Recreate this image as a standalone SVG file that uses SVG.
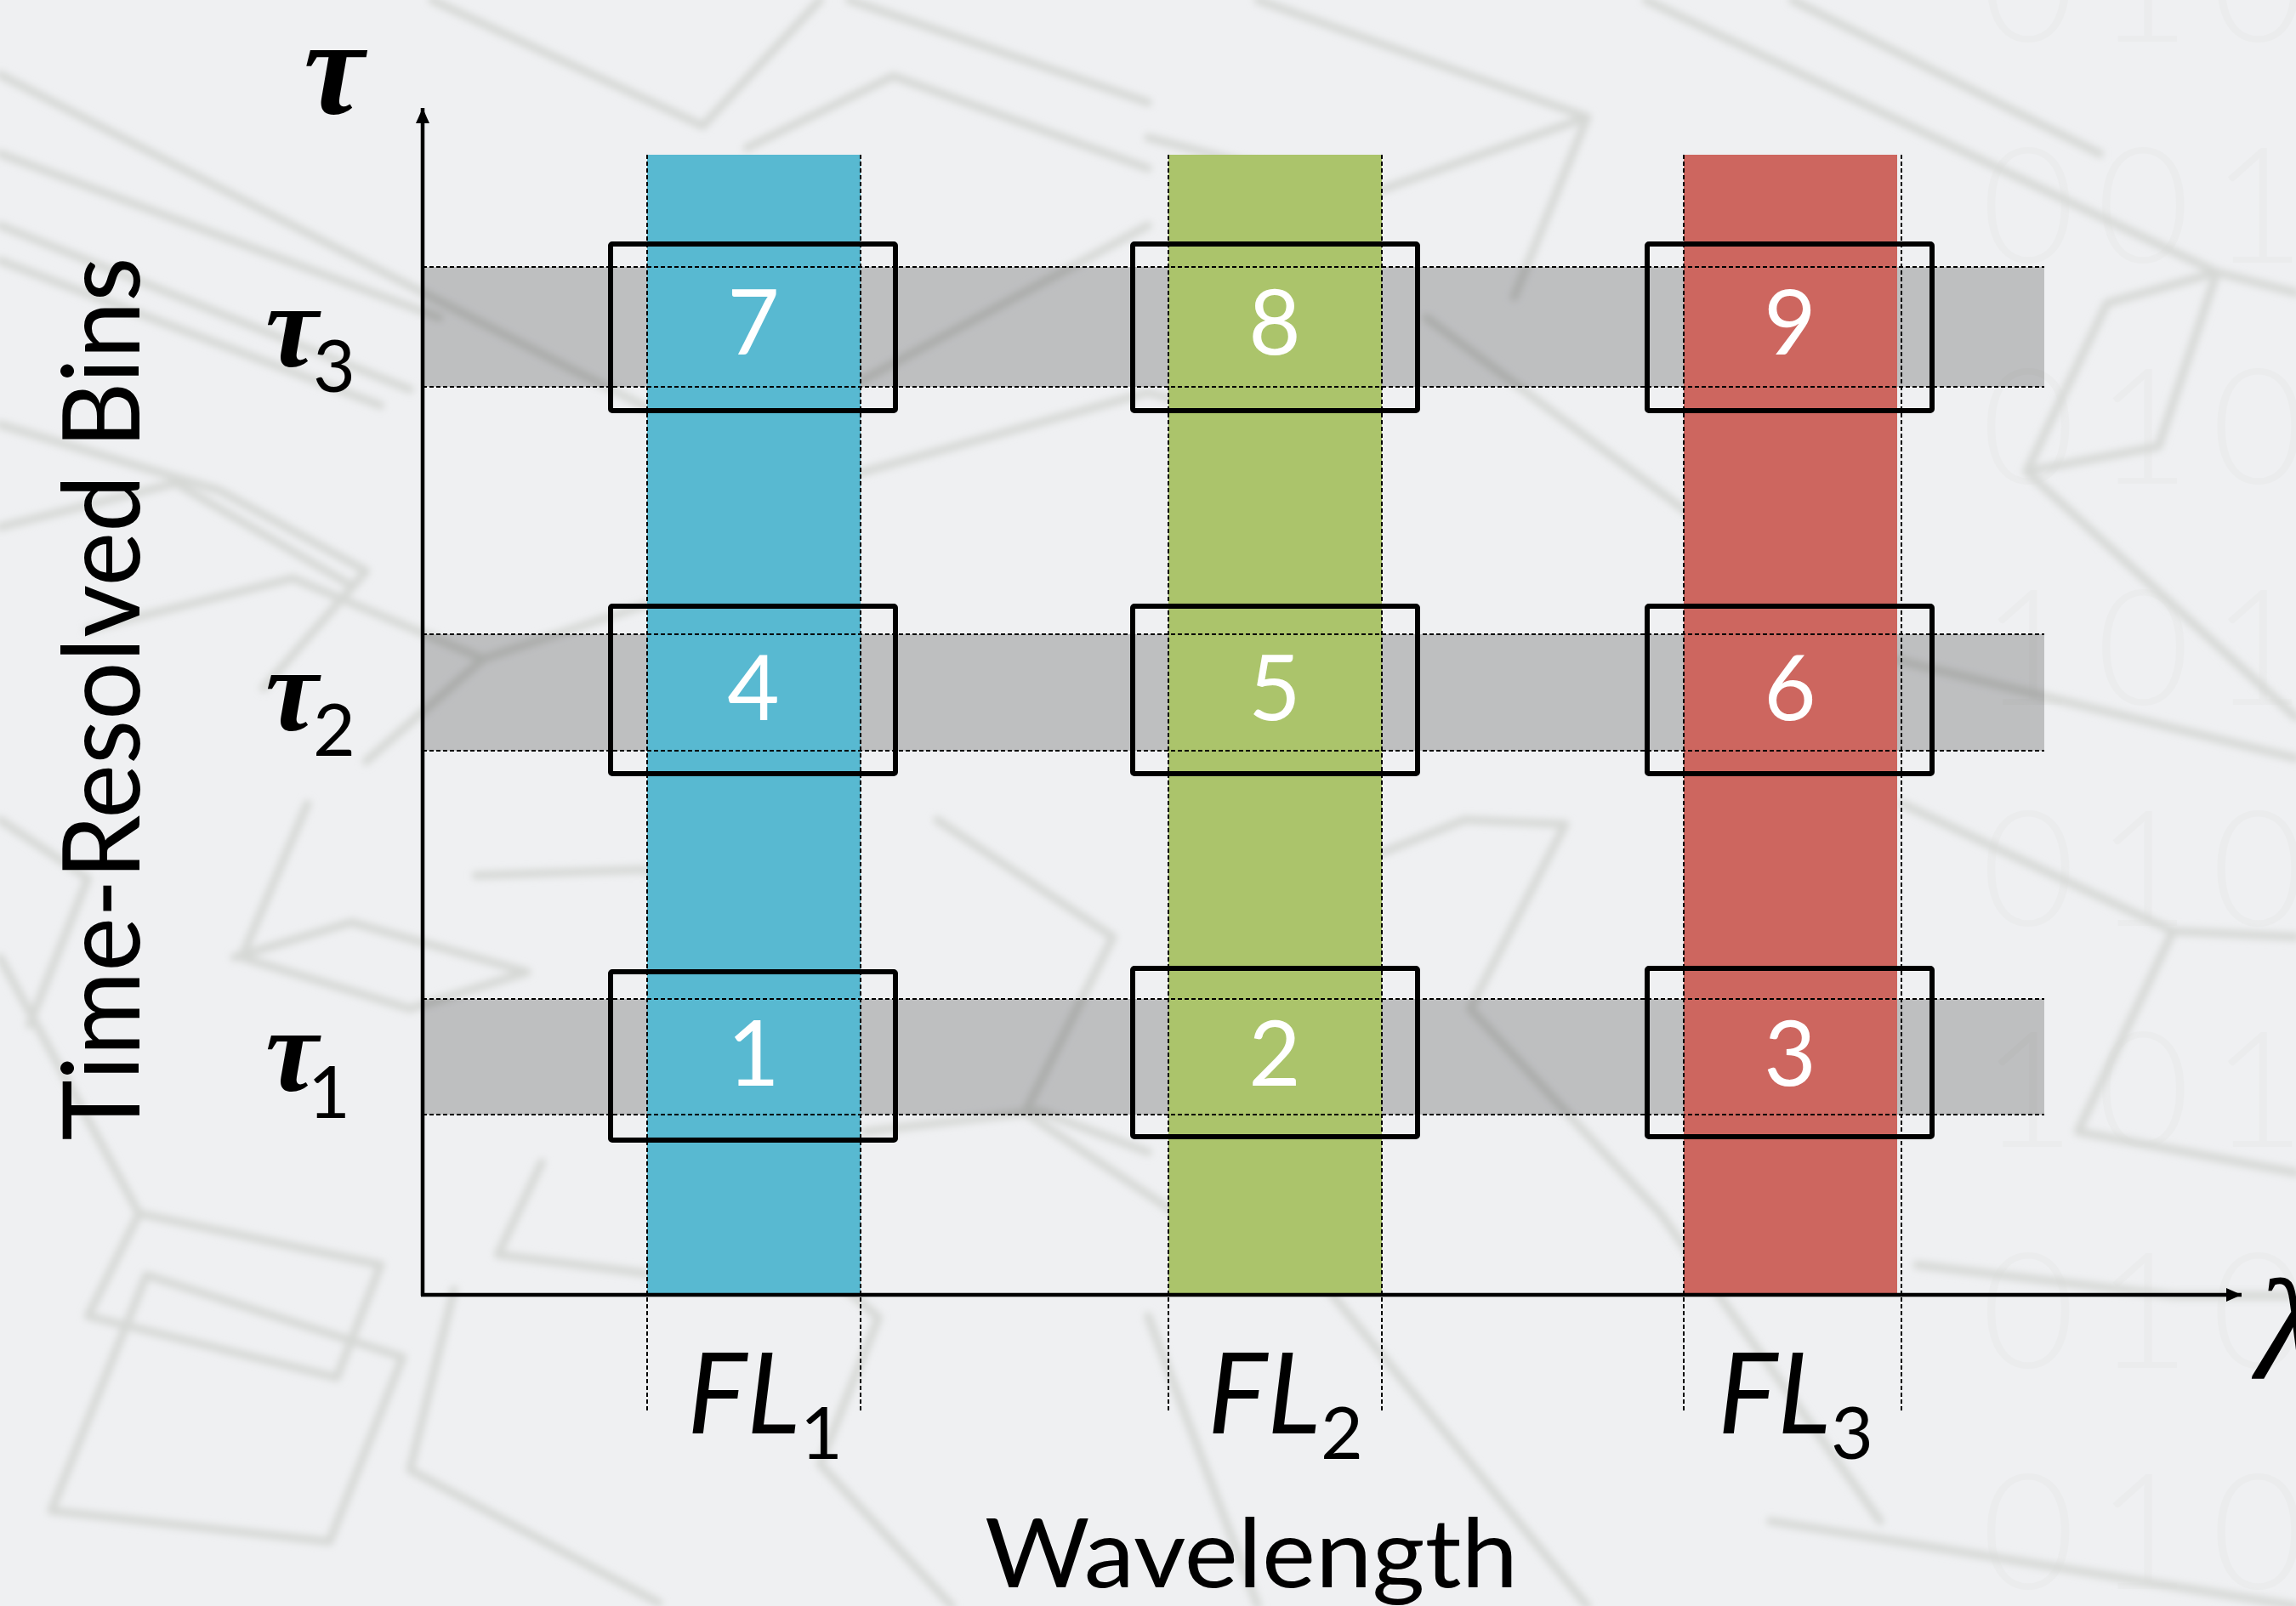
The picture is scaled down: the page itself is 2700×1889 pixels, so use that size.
<svg xmlns="http://www.w3.org/2000/svg" width="2700" height="1889" viewBox="0 0 2700 1889">
  <defs>
    <style>
      .sans { font-family: Lato, "Open Sans", "Liberation Sans", sans-serif; }
      .serif { font-family: "Liberation Serif", "DejaVu Serif", serif; }
      .num { font-family: Lato, "Open Sans", "Liberation Sans", sans-serif; font-size: 106px; fill: #ffffff; text-anchor: middle; }
      .cell { fill: none; stroke: #000000; stroke-width: 6; }
      .dash { stroke: #000000; stroke-width: 2; stroke-dasharray: 5 3; fill: none; }
      .band { fill: #000000; fill-opacity: 0.205; }
      .axis { stroke: #000000; stroke-width: 4.5; fill: none; }
      .tau { font-family: "Liberation Serif", "DejaVu Serif", serif; font-weight: bold; font-style: italic; }
      .sub { font-family: Lato, "Open Sans", "Liberation Sans", sans-serif; font-size: 86px; }
      .fl { font-family: Lato, "Open Sans", "Liberation Sans", sans-serif; font-style: italic; font-size: 132px; }
      .deco { fill: none; stroke: #d6d8d5; stroke-width: 5.5; stroke-linejoin: round; stroke-linecap: round; }
      .bits { font-family: Lato, "Open Sans", "Liberation Sans", sans-serif; font-weight: 300; font-size: 190px; fill: #ebeced; letter-spacing: 25px; }
    </style>
    <filter id="soft" x="-5%" y="-5%" width="110%" height="110%">
      <feGaussianBlur stdDeviation="2.6"/>
    </filter>
    <marker id="head" markerUnits="userSpaceOnUse" markerWidth="20" markerHeight="18" refX="18" refY="9" orient="auto">
      <path d="M0,1 L18,9 L0,17 Z" fill="#000000"/>
    </marker>
  </defs>

  <!-- page background -->
  <rect x="0" y="0" width="2700" height="1889" fill="#eff0f2"/>

  <!-- faint decorative backdrop: binary digits and wire-frame blocks -->
  <g id="backdrop">
    <g class="bits">
      <text x="2330" y="49">010</text>
      <text x="2330" y="309">001</text>
      <text x="2330" y="569">010</text>
      <text x="2330" y="829">101</text>
      <text x="2330" y="1089">010</text>
      <text x="2330" y="1349">101</text>
      <text x="2330" y="1609">010</text>
      <text x="2330" y="1869">010</text>
    </g>
    <g transform="scale(1.72194)" filter="url(#soft)">
      <path class="deco" d="M0,51 L390,252 L500,308"/>
      <path class="deco" d="M0,105 L300,217"/>
      <path class="deco" d="M0,154 L280,266"/>
      <path class="deco" d="M0,178 L260,277"/>
      <path class="deco" d="M295,0 L480,86 L560,0"/>
      <path class="deco" d="M510,101 L610,52 L784,115"/>
      <path class="deco" d="M580,0 L784,70"/>
      <path class="deco" d="M859,0 L1084,80 L1034,203"/>
      <path class="deco" d="M784,94 L934,133 L1084,80"/>
      <path class="deco" d="M974,217 L1284,448 L1568,518"/>
      <path class="deco" d="M1124,0 L1514,186 L1568,200"/>
      <path class="deco" d="M1224,0 L1434,105"/>
      <path class="deco" d="M1439,207 L1514,186 L1474,305 L1384,322 Z"/>
      <path class="deco" d="M1384,322 L1568,490"/>
      <path class="deco" d="M500,308 L784,154"/>
      <path class="deco" d="M580,325 L784,268 L900,300"/>
      <path class="deco" d="M0,290 L150,335 L250,390 L180,470"/>
      <path class="deco" d="M0,360 L120,330 L240,400"/>
      <path class="deco" d="M60,430 L200,395 L330,450 L250,520"/>
      <path class="deco" d="M330,450 L450,410 L560,460"/>
      <path class="deco" d="M210,549 L165,654 L280,689 L360,664 L240,630 L160,654"/>
      <path class="deco" d="M325,598 L440,594 L520,640"/>
      <path class="deco" d="M0,654 L95,829 L260,864"/>
      <path class="deco" d="M95,829 L60,899 L230,941 L260,864"/>
      <path class="deco" d="M35,1032 L100,871 L275,927 L225,1053 Z"/>
      <path class="deco" d="M310,881 L280,1004 L450,1095"/>
      <path class="deco" d="M370,794 L340,857 L450,871 L520,830"/>
      <path class="deco" d="M590,773 L710,759 L784,787"/>
      <path class="deco" d="M520,830 L600,900 L560,1000 L650,1097"/>
      <path class="deco" d="M0,560 L60,600 L20,700"/>
      <path class="deco" d="M1069,563 L1004,689 L1134,829 L1284,1039"/>
      <path class="deco" d="M1299,549 L1484,636 L1568,640"/>
      <path class="deco" d="M1484,636 L1419,773 L1568,801"/>
      <path class="deco" d="M1309,864 L1484,885 L1568,885"/>
      <path class="deco" d="M1209,1039 L1568,1097"/>
      <path class="deco" d="M784,899 L859,1097"/>
      <path class="deco" d="M899,871 L1084,1097"/>
      <path class="deco" d="M900,600 L1000,560 L1069,563"/>
      <path class="deco" d="M640,560 L760,640 L700,760 L820,840"/>
    </g>
  </g>

  <!-- time bins -->
  <g id="time-bins">
    <rect class="band" x="497" y="314" width="1907" height="141"/>
    <rect class="band" x="497" y="746" width="1907" height="137"/>
    <rect class="band" x="497" y="1175" width="1907" height="136"/>
  </g>

  <!-- filter channels -->
  <g id="channel-FL1"><rect x="761" y="182" width="251" height="1342" fill="#58b9d1"/></g>
  <g id="channel-FL2"><rect x="1374" y="182" width="251" height="1342" fill="#abc46b"/></g>
  <g id="channel-FL3"><rect x="1980" y="182" width="251" height="1342" fill="#cd665f"/></g>

  <!-- guide lines -->
  <g id="guides">
    <path class="dash" d="M497,314 H2404 M497,455 H2404 M497,746 H2404 M497,883 H2404 M497,1175 H2404 M497,1311 H2404"/>
    <path class="dash" d="M761,182 V1660 M1012,182 V1660 M1374,182 V1660 M1625,182 V1660 M1980,182 V1660 M2236,182 V1660"/>
  </g>

  <!-- axes -->
  <g id="connectors">
    <path class="axis" d="M497,1524 V127" marker-end="url(#head)"/>
    <path class="axis" d="M495,1523 H2636" marker-end="url(#head)"/>
  </g>

  <!-- cells -->
  <g id="cell-7"><rect class="cell" x="718" y="287" width="335" height="196" rx="2"/><text class="num" x="886" y="417">7</text></g>
  <g id="cell-8"><rect class="cell" x="1332" y="287" width="335" height="196" rx="2"/><text class="num" x="1499" y="417">8</text></g>
  <g id="cell-9"><rect class="cell" x="1937" y="287" width="335" height="196" rx="2"/><text class="num" x="2105" y="417">9</text></g>
  <g id="cell-4"><rect class="cell" x="718" y="713" width="335" height="197" rx="2"/><text class="num" x="886" y="847">4</text></g>
  <g id="cell-5"><rect class="cell" x="1332" y="713" width="335" height="197" rx="2"/><text class="num" x="1499" y="847">5</text></g>
  <g id="cell-6"><rect class="cell" x="1937" y="713" width="335" height="197" rx="2"/><text class="num" x="2105" y="847">6</text></g>
  <g id="cell-1"><rect class="cell" x="718" y="1143" width="335" height="198" rx="2"/><text class="num" x="886" y="1277">1</text></g>
  <g id="cell-2"><rect class="cell" x="1332" y="1139" width="335" height="198" rx="2"/><text class="num" x="1499" y="1277">2</text></g>
  <g id="cell-3"><rect class="cell" x="1937" y="1139" width="335" height="198" rx="2"/><text class="num" x="2105" y="1277">3</text></g>

  <!-- axis labels -->
  <g id="labels">
    <text class="tau" x="357" y="133" font-size="160">τ</text>
    <text class="tau" x="312" y="431" font-size="140">τ</text>
    <text class="sub" x="368" y="461">3</text>
    <text class="tau" x="312" y="859" font-size="140">τ</text>
    <text class="sub" x="368" y="889">2</text>
    <text class="tau" x="312" y="1283" font-size="140">τ</text>
    <text class="sub" x="362" y="1315">1</text>

    <text class="sans" transform="translate(164,822) rotate(-90)" text-anchor="middle" font-size="126" textLength="1039" lengthAdjust="spacingAndGlyphs">Time-Resolved Bins</text>

    <text class="fl" x="808" y="1686">FL</text>
    <text class="sub" x="941" y="1716">1</text>
    <text class="fl" x="1420" y="1686">FL</text>
    <text class="sub" x="1553" y="1716">2</text>
    <text class="fl" x="2020" y="1686">FL</text>
    <text class="sub" x="2153" y="1716">3</text>

    <text class="sans" x="1158" y="1867" font-size="113" textLength="627" lengthAdjust="spacingAndGlyphs">Wavelength</text>
    <text class="serif" x="2652" y="1622" font-size="170" font-style="italic">λ</text>
  </g>
</svg>
